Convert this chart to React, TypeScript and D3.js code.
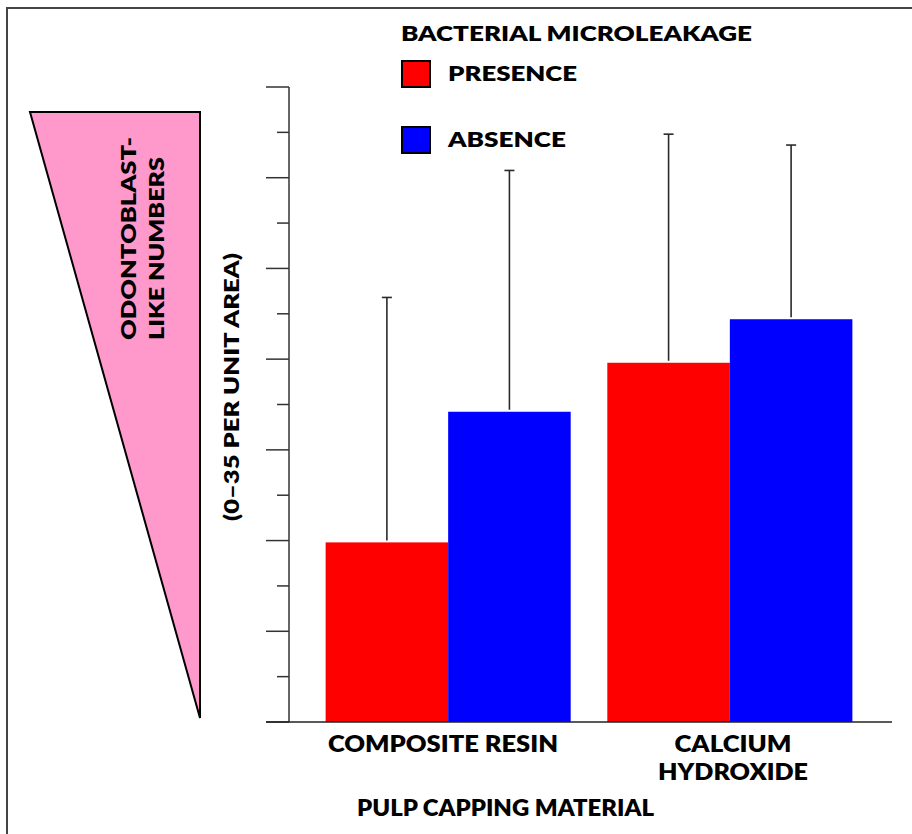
import React from "react";
import * as d3 from "d3";

// Pulp capping material groups and bacterial microleakage series
const materials = ["COMPOSITE RESIN", "CALCIUM HYDROXIDE"];
const materialLines = [["COMPOSITE RESIN"], ["CALCIUM", "HYDROXIDE"]];
const seriesNames = ["PRESENCE", "ABSENCE"];
const seriesColors = ["#ff0000", "#0000ff"];

// Mean odontoblast-like cell numbers per unit area (presence, absence)
const meanValues = [
  [9.9, 17.1],
  [19.8, 22.2],
];
// Upper error (standard deviation) above each mean
const errorValues = [
  [13.5, 13.3],
  [12.6, 9.6],
];

const yMax = 35;
const tickStep = 2.5;

const W = 912;
const H = 834;
const FONT = "Lato, 'Open Sans', 'DejaVu Sans', sans-serif";

// label line widths, keyed by text
const labelWidths: Record<string, number> = {
  "COMPOSITE RESIN": 230,
  CALCIUM: 117,
  HYDROXIDE: 150,
};

export default function App() {
  const axisX = 289;
  const baseY = 722;
  const topY = 87;

  const y = d3.scaleLinear().domain([0, yMax]).range([baseY, topY]);
  const x0 = d3
    .scaleBand<string>()
    .domain(materials)
    .range([axisX, 889])
    .paddingInner(0.13)
    .paddingOuter(0.13);
  const x1 = d3
    .scaleBand<string>()
    .domain(seriesNames)
    .range([0, x0.bandwidth()])
    .padding(0);

  const ticks = d3.range(0, yMax + 0.001, tickStep);

  // Wedge shape suggesting increasing cell numbers up the axis
  const wedge = d3.line()([
    [30, 112],
    [200, 112],
    [200, 718],
  ]) + "Z";

  const textStyle = {
    fontFamily: FONT,
    fontWeight: 800,
    fill: "#000",
  } as const;

  const labelCenters = [443, 733];

  return (
    <svg
      width={W}
      height={H}
      style={{ position: "absolute", left: 0, top: 0, background: "#fff" }}
    >
      {/* frame */}
      <path d="M7,834 L7,8 L912,8" fill="none" stroke="#444" strokeWidth={2} />

      {/* wedge and its label */}
      <path d={wedge} fill="#ff99cc" stroke="#000" strokeWidth={2} strokeLinejoin="miter" />
      <g transform="translate(136,340) rotate(-90)">
        <text {...textStyle} fontSize={21} textLength={203} lengthAdjust="spacingAndGlyphs">
          ODONTOBLAST-
        </text>
      </g>
      <g transform="translate(164,340) rotate(-90)">
        <text {...textStyle} fontSize={21} textLength={183} lengthAdjust="spacingAndGlyphs">
          LIKE NUMBERS
        </text>
      </g>
      <g transform="translate(239,387) rotate(-90)">
        <text {...textStyle} fontSize={21} textAnchor="middle" textLength={268} lengthAdjust="spacingAndGlyphs">
          (0–35 PER UNIT AREA)
        </text>
      </g>

      {/* legend */}
      <text {...textStyle} x={401} y={41} fontSize={21} textLength={351} lengthAdjust="spacingAndGlyphs">
        BACTERIAL MICROLEAKAGE
      </text>
      {seriesNames.map((s, i) => (
        <g key={s} transform={`translate(402,${61 + i * 66})`}>
          <rect width={28} height={26} fill={seriesColors[i]} stroke="#000" strokeWidth={2} />
          <text
            {...textStyle}
            x={46}
            y={20}
            fontSize={21}
            textLength={i === 0 ? 129 : 118}
            lengthAdjust="spacingAndGlyphs"
          >
            {s}
          </text>
        </g>
      ))}

      {/* y axis */}
      <line x1={axisX} x2={axisX} y1={topY} y2={baseY} stroke="#333" strokeWidth={1.5} />
      {ticks.map((t, i) => (
        <line
          key={t}
          x1={i % 2 === 0 ? 266 : 277}
          x2={axisX}
          y1={y(t)}
          y2={y(t)}
          stroke="#333"
          strokeWidth={1.5}
        />
      ))}

      {/* bars */}
      {materials.map((m, gi) => (
        <g key={m} transform={`translate(${x0(m)},0)`}>
          {seriesNames.map((s, si) => (
            <rect
              key={s}
              x={x1(s)}
              y={y(meanValues[gi][si])}
              width={x1.bandwidth()}
              height={baseY - y(meanValues[gi][si])}
              fill={seriesColors[si]}
            />
          ))}
        </g>
      ))}

      {/* error bars (upper whisker only) */}
      {materials.map((m, gi) =>
        seriesNames.map((s, si) => {
          const cx = (x0(m) ?? 0) + (x1(s) ?? 0) + x1.bandwidth() / 2;
          const top = y(meanValues[gi][si] + errorValues[gi][si]);
          const bottom = y(meanValues[gi][si]) - 2;
          return (
            <g key={m + s} stroke="#2a2a2a" strokeWidth={1.6}>
              <line x1={cx} x2={cx} y1={top} y2={bottom} />
              <line x1={cx - 5} x2={cx + 5} y1={top} y2={top} />
            </g>
          );
        })
      )}

      {/* baseline */}
      <line x1={266} x2={892} y1={baseY} y2={baseY} stroke="#222" strokeWidth={1.5} />

      {/* category labels */}
      {materials.map((m, gi) => (
        <g key={m}>
          {materialLines[gi].map((ln, li) => (
            <text
              key={ln}
              {...textStyle}
              fontSize={22}
              textAnchor="middle"
              x={labelCenters[gi]}
              y={752 + li * 28}
              textLength={labelWidths[ln]}
              lengthAdjust="spacingAndGlyphs"
            >
              {ln}
            </text>
          ))}
        </g>
      ))}

      <text {...textStyle} x={357} y={816} fontSize={22} textLength={297} lengthAdjust="spacingAndGlyphs">
        PULP CAPPING MATERIAL
      </text>
    </svg>
  );
}
